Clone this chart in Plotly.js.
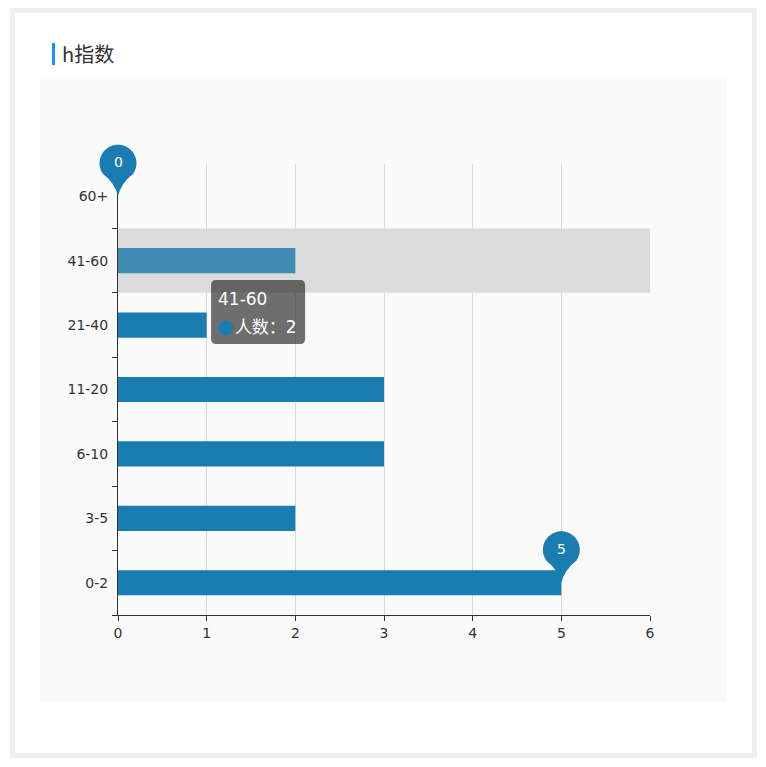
<!DOCTYPE html>
<html>
<head>
<meta charset="utf-8">
<script src="https://cdn.plot.ly/plotly-3.0.1.min.js"></script>
<style>
  body { margin: 0; background: #fff; font-family: "Noto Sans CJK SC", "Noto Sans", sans-serif; }
  #frame { position: absolute; left: 10px; top: 8px; width: 737px; height: 740px; border: 5px solid #f0f0f0; }
  #title { position: absolute; left: 52px; top: 43px; height: 22px; line-height: 22px; border-left: 3px solid #1890ff;
           padding-left: 7px; font-size: 20px; color: #333; }
  #chart { position: absolute; left: 40px; top: 78px; width: 687px; height: 624px; background: #fafafa; border-radius: 4px; }
</style>
</head>
<body>
<div id="frame"></div>
<div id="title">h指数</div>
<div id="chart"></div>
<script>
'use strict'
var ageGroups = ['0-2', '3-5', '6-10', '11-20', '21-40', '41-60', '60+'];
var counts = [5, 2, 3, 3, 1, 2, 0];
var seriesName = '人数';
var hoverIndex = 5;          // bar under the mouse in the screenshot
var mouseX = 1.05, mouseY = hoverIndex - 0.3;   // where the tooltip sits

var xMax = 6;
var barColor = '#197db1';
var hoverColor = '#3f8bb4';
var fontFamily = '"DejaVu Sans", "Noto Sans CJK SC", sans-serif';

/* pin symbol, in pixels relative to the point (y goes up) */
function pinPath(){
  var r = 18.5, cy = 33;
  var p = 'M 0 0 Q -3 13 ' + (r * Math.cos(215 * Math.PI / 180)).toFixed(2) + ' ' + (cy + r * Math.sin(215 * Math.PI / 180)).toFixed(2);
  for(var a = 205; a >= -35; a -= 10){
    p += ' L ' + (r * Math.cos(a * Math.PI / 180)).toFixed(2) + ' ' + (cy + r * Math.sin(a * Math.PI / 180)).toFixed(2);
  }
  p += ' Q 3 13 0 0 Z';
  return p;
}

/* rounded box for the tooltip, top-left corner at the anchor */
function boxPath(w, h, r){
  return 'M ' + r + ' 0 L ' + (w - r) + ' 0 Q ' + w + ' 0 ' + w + ' ' + (-r) +
         ' L ' + w + ' ' + (r - h) + ' Q ' + w + ' ' + (-h) + ' ' + (w - r) + ' ' + (-h) +
         ' L ' + r + ' ' + (-h) + ' Q 0 ' + (-h) + ' 0 ' + (r - h) +
         ' L 0 ' + (-r) + ' Q 0 0 ' + r + ' 0 Z';
}

var maxIdx = counts.indexOf(Math.max.apply(null, counts));
var minIdx = counts.indexOf(Math.min.apply(null, counts));

var shapes = [{
  type: 'rect', layer: 'below', xref: 'x', yref: 'y',
  x0: 0, x1: xMax, y0: hoverIndex - 0.5, y1: hoverIndex + 0.5,
  fillcolor: 'rgba(150,150,150,0.3)', line: {width: 0}
}];
var annotations = [];
[minIdx, maxIdx].forEach(function(i){
  // domain refs so the pin is not clipped at the plot edge
  shapes.push({
    type: 'path', xref: 'x domain', yref: 'y domain',
    xsizemode: 'pixel', ysizemode: 'pixel',
    xanchor: counts[i] / xMax, yanchor: (i + 0.5) / ageGroups.length,
    path: pinPath(), fillcolor: barColor, line: {width: 0}
  });
  annotations.push({
    x: counts[i], y: ageGroups[i], xref: 'x', yref: 'y', yshift: 34,
    text: String(counts[i]), showarrow: false,
    font: {color: '#fff', size: 14, family: fontFamily}
  });
});

// tooltip
shapes.push({
  type: 'path', xref: 'x', yref: 'y', xsizemode: 'pixel', ysizemode: 'pixel',
  xanchor: mouseX, yanchor: mouseY, path: boxPath(94, 64, 5),
  fillcolor: 'rgba(50,50,50,0.7)', line: {width: 0}
});
annotations.push({
  x: mouseX, y: mouseY, xref: 'x', yref: 'y', xshift: 5, yshift: -19,
  xanchor: 'left', yanchor: 'middle', showarrow: false,
  text: ageGroups[hoverIndex], font: {color: '#fff', size: 17, family: fontFamily}
});
annotations.push({
  x: mouseX, y: mouseY, xref: 'x', yref: 'y', xshift: 4, yshift: -46,
  xanchor: 'left', yanchor: 'middle', showarrow: false,
  text: '<span style="color:' + barColor + ';font-size:19px">●</span><span style="font-size:4px"> </span>' +
        seriesName + '：' + counts[hoverIndex],
  font: {color: '#fff', size: 17, family: fontFamily}
});

var barTrace = {
  type: 'bar',
  orientation: 'h',
  name: seriesName,
  y: ageGroups,
  x: counts,
  marker: {color: counts.map(function(v, i){ return i === hoverIndex ? hoverColor : barColor; })},
  hoverinfo: 'none'
};

var layout = {
  width: 687,
  height: 624,
  margin: {l: 78, r: 77, t: 86, b: 87, pad: 0},
  paper_bgcolor: '#fafafa',
  plot_bgcolor: '#fafafa',
  font: {family: fontFamily, size: 14, color: '#333'},
  showlegend: false,
  bargap: 0.61,
  xaxis: {
    range: [0, xMax],
    dtick: 1,
    tick0: 0,
    showgrid: true,
    gridcolor: '#dadada',
    zeroline: false,
    showline: true,
    linecolor: '#333',
    ticks: 'outside',
    ticklen: 5,
    tickcolor: '#333',
    tickfont: {size: 14, color: '#333'},
    fixedrange: true
  },
  yaxis: {
    type: 'category',
    categoryorder: 'array',
    categoryarray: ageGroups,
    range: [-0.5, ageGroups.length - 0.5],
    showgrid: false,
    zeroline: false,
    showline: true,
    linecolor: '#333',
    ticks: 'outside',
    tickson: 'boundaries',
    ticklen: 5,
    tickcolor: '#333',
    ticklabelstandoff: 6,
    tickfont: {size: 14, color: '#333'},
    fixedrange: true
  },
  shapes: shapes,
  annotations: annotations
};

Plotly.newPlot('chart', [barTrace], layout, {displayModeBar: false, staticPlot: true});
</script>
</body>
</html>
